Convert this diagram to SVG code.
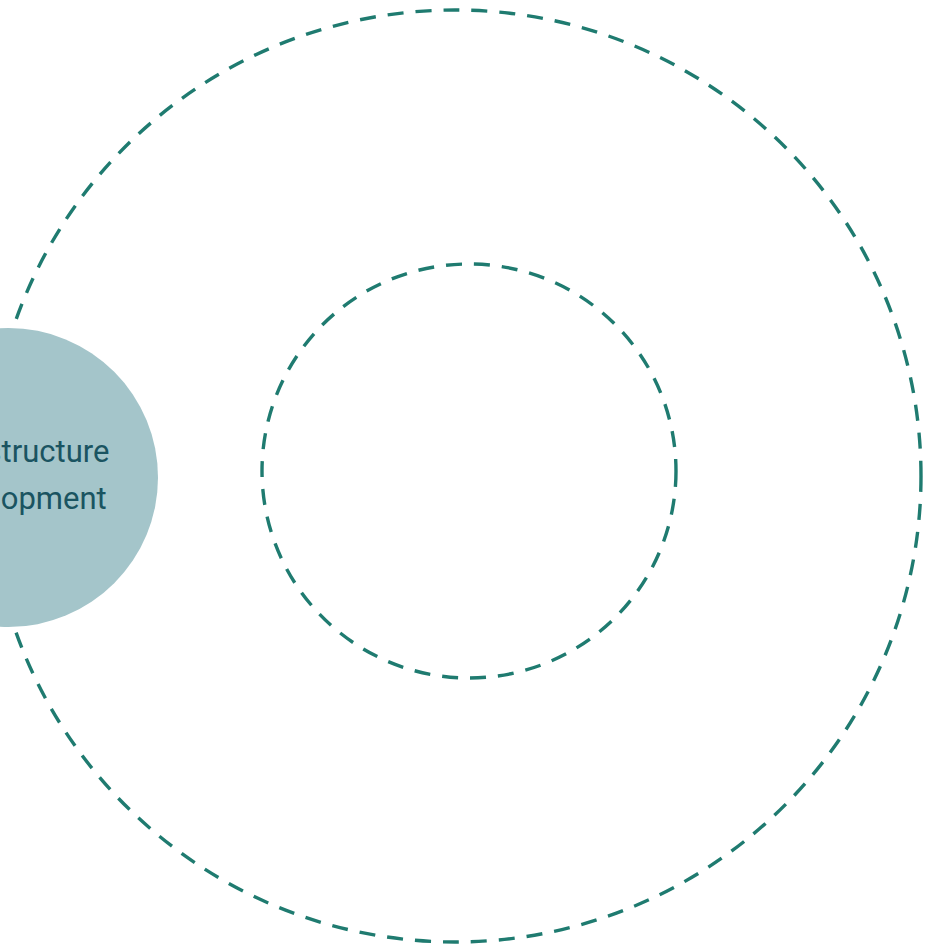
<svg xmlns="http://www.w3.org/2000/svg" width="925" height="948" viewBox="0 0 925 948">
  <style>
    .ring { fill: none; stroke: #1f7b70; stroke-width: 3.4; stroke-dasharray: 16 12; }
    .node { fill: #a4c5ca; }
    .label { font-family: Roboto, "Liberation Sans", sans-serif; font-size: 31px; fill: #1a5461; text-anchor: middle; }
  </style>
  <rect width="925" height="948" fill="#ffffff"/>
  <g id="connectors">
    <circle id="outer-ring" class="ring" cx="455" cy="476" r="466"/>
    <circle id="inner-ring" class="ring" cx="469" cy="471" r="207"/>
  </g>
  <g id="node-infrastructure">
    <circle class="node" cx="8.5" cy="477.5" r="149.5"/>
    <text class="label" x="16" y="462">Infrastructure</text>
    <text class="label" x="16" y="509">Development</text>
  </g>
</svg>
